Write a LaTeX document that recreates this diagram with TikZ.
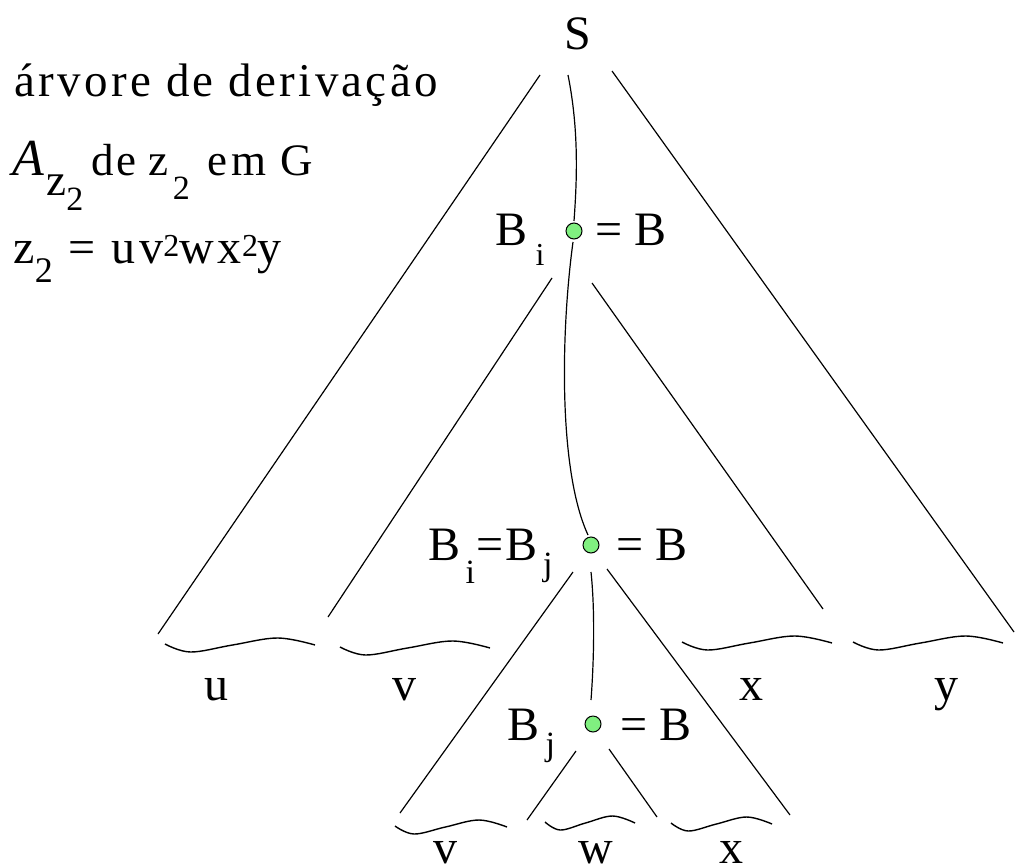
\documentclass[tikz,border=0pt]{standalone}
\usepackage{fontspec}
\setmainfont{Liberation Serif}
\definecolor{nodegreen}{RGB}{128,240,128}
\newcommand{\fs}[1]{\fontsize{#1}{#1}\selectfont}

\begin{document}
\begin{tikzpicture}[x=1pt, y=-1pt, line width=1.2pt,
	every node/.style={inner sep=0pt, font=\fs{48}},
	dot/.style={circle, draw, fill=nodegreen, minimum size=16pt, line width=1pt},
	lbl/.style={anchor=base west}, leaf/.style={anchor=base}]
	\useasboundingbox (0,0) rectangle (1016,864);
	% left side text
	\node[lbl, font=\fs{47}\addfontfeature{LetterSpace=7}] (t1) at (14,96) {árvore de derivação};
	\node[lbl, font=\fs{45}\addfontfeature{LetterSpace=7}] (t2) at (12,175) {{\itshape\fs{52}A}\kern2pt\raisebox{-20pt}{z\raisebox{-15pt}{\fs{34}2}}\kern8pt de\kern12pt z\kern4pt\raisebox{-24pt}{\fs{34}2}\kern18pt em G};
	\node[lbl, font=\fs{48}\addfontfeature{LetterSpace=8}] (t3) at (13,263) {z\raisebox{-19pt}{\fs{36}2} = uv\raisebox{7pt}{\fs{32}2}wx\raisebox{7pt}{\fs{32}2}y};
	% tree nodes
	\node[leaf] (S) at (578,50) {S};
	\node[dot] (c1) at (574,231) {};
	\node[dot] (c2) at (591,545) {};
	\node[dot] (c3) at (593,724) {};
	\node[lbl] (bi) at (495,245) {B\kern8pt\raisebox{-20pt}{\fs{32}i}};
	\node[lbl] (eq1) at (595,245) {= B};
	\node[lbl] (bij) at (428,560) {B\kern5pt\raisebox{-23pt}{\fs{34}i}\kern1pt=\kern2pt B\kern6pt\raisebox{-15pt}{\fs{34}j}};
	\node[lbl] (eq2) at (616,560) {= B};
	\node[lbl] (bj) at (507,740) {B\kern6pt\raisebox{-15pt}{\fs{34}j}};
	\node[lbl] (eq3) at (620,740) {= B};
	% leaves
	\node[leaf] (lu) at (216,700) {u};
	\node[leaf] (lv) at (404,700) {v};
	\node[leaf] (lx) at (751,700) {x};
	\node[leaf] (ly) at (946,700) {y};
	\node[leaf] (lv2) at (445,863) {v};
	\node[leaf] (lw) at (596,863) {w};
	\node[leaf] (lx2) at (731,863) {x};
	% ends of the branches
	\coordinate (S-l) at (540,75);  \coordinate (S-m) at (568,75);  \coordinate (S-r) at (612,71);
	\coordinate (c1-l) at (552,278); \coordinate (c1-r) at (592,283); \coordinate (c1-t) at (574,221); \coordinate (c1-b) at (573,242);
	\coordinate (c2-l) at (573,572); \coordinate (c2-r) at (607,569); \coordinate (c2-t) at (588,535); \coordinate (c2-b) at (591,572);
	\coordinate (c3-l) at (576,751); \coordinate (c3-r) at (609,749); \coordinate (c3-t) at (591,700);
	\coordinate (e-u) at (158,634);  \coordinate (e-y) at (1014,632);
	\coordinate (e-v) at (328,617);  \coordinate (e-x) at (823,609);
	\coordinate (e-v2) at (400,813); \coordinate (e-x2) at (790,815);
	\coordinate (e-w1) at (527,820); \coordinate (e-w2) at (657,817);
	\draw (S-l) -- (e-u);
	\draw (S-r) -- (e-y);
	\draw (c1-l) -- (e-v);
	\draw (c1-r) -- (e-x);
	\draw (c2-l) -- (e-v2);
	\draw (c2-r) -- (e-x2);
	\draw (c3-l) -- (e-w1);
	\draw (c3-r) -- (e-w2);
	\draw (S-m) .. controls (579,130) and (577,180) .. (c1-t);
	\draw (c1-b) .. controls (561,330) and (558,470) .. (c2-t);
	\draw (c2-b) .. controls (595,610) and (594,660) .. (c3-t);
	% braces under the leaves
	\foreach \a/\b/\y in {165/315/644, 340/490/647, 682/832/642, 853/1003/642, 395/507/826, 545/635/822, 671/772/823} {
		\pgfmathsetmacro{\w}{\b-\a}
		\draw[line width=1.4pt] plot[smooth, tension=0.6] coordinates {(\a,\y) ({\a+0.17*\w},{\y+8}) ({\a+0.45*\w},{\y+1}) ({\a+0.75*\w},{\y-6}) (\b,{\y+1})};
	}
\end{tikzpicture}
\end{document}
